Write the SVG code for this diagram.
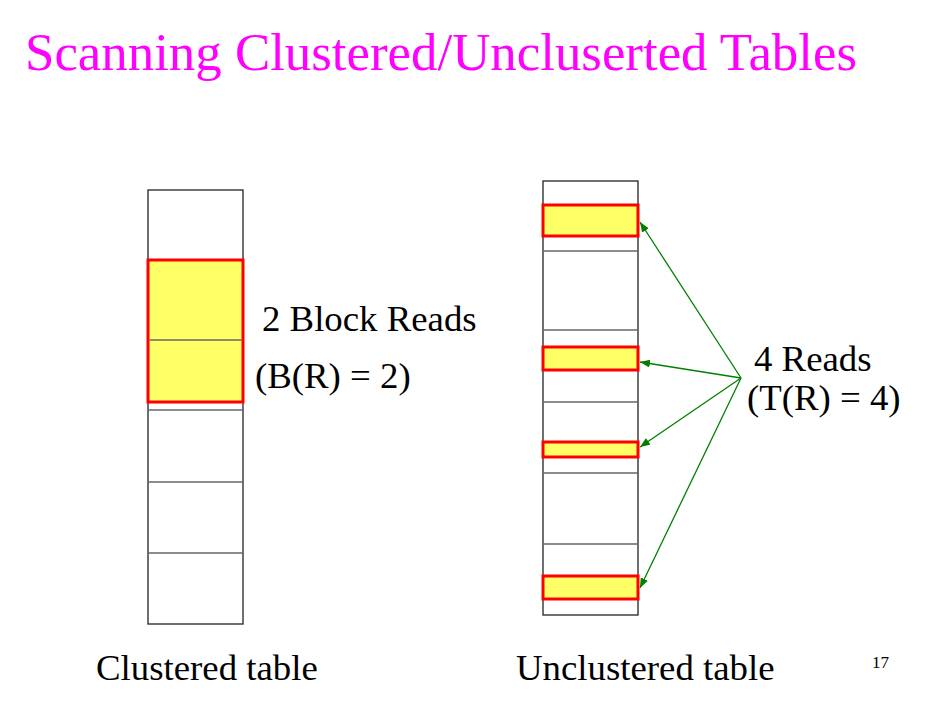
<svg xmlns="http://www.w3.org/2000/svg" width="946" height="709" viewBox="0 0 946 709">
<style>
text{font-family:"Liberation Serif","Times New Roman",serif;fill:#000}
.title{font-size:53px;fill:#FF00FF}
.lbl{font-size:36.8px}
.tbl{fill:#fff;stroke:#222;stroke-width:1.3}
.row{stroke:#666;stroke-width:1.5}
.hl{fill:#FFFF66;stroke:#FF0000;stroke-width:3}
.arr{stroke:#008000;stroke-width:1.3;fill:none;marker-end:url(#ah)}
</style>
<defs>
<marker id="ah" viewBox="0 0 10 8" refX="10" refY="4" markerWidth="10" markerHeight="8" markerUnits="userSpaceOnUse" orient="auto">
<path d="M0,0 L10,4 L0,8 z" fill="#008000"/>
</marker>
</defs>
<rect width="946" height="709" fill="#fff"/>
<text class="title" x="25" y="70" textLength="832" lengthAdjust="spacingAndGlyphs">Scanning Clustered/Uncluserted Tables</text>

<g id="clustered-table">
<rect class="tbl" x="148" y="190" width="95" height="434"/>
<line class="row" x1="148" y1="410" x2="243" y2="410"/>
<line class="row" x1="148" y1="482" x2="243" y2="482"/>
<line class="row" x1="148" y1="553" x2="243" y2="553"/>
<rect class="hl" x="148" y="260" width="95" height="142"/>
<line class="row" x1="149.5" y1="340" x2="241.5" y2="340"/>
</g>

<g id="unclustered-table">
<rect class="tbl" x="543" y="181" width="95" height="434"/>
<line class="row" x1="543" y1="251" x2="638" y2="251"/>
<line class="row" x1="543" y1="330" x2="638" y2="330"/>
<line class="row" x1="543" y1="402" x2="638" y2="402"/>
<line class="row" x1="543" y1="473" x2="638" y2="473"/>
<line class="row" x1="543" y1="544" x2="638" y2="544"/>
<rect class="hl" x="543" y="205" width="95" height="31"/>
<rect class="hl" x="543" y="347" width="95" height="23"/>
<rect class="hl" x="543" y="442" width="95" height="15"/>
<rect class="hl" x="543" y="576" width="95" height="23"/>
</g>

<g id="connectors">
<line class="arr" x1="741" y1="378" x2="640" y2="222"/>
<line class="arr" x1="741" y1="378" x2="640" y2="362"/>
<line class="arr" x1="741" y1="378" x2="640" y2="447"/>
<line class="arr" x1="741" y1="378" x2="640" y2="588"/>
</g>

<g id="clustered-label">
<text class="lbl" x="262" y="331">2 Block Reads</text>
<text class="lbl" x="255" y="388">(B(R) = 2)</text>
</g>
<g id="unclustered-label">
<text class="lbl" x="754" y="371">4 Reads</text>
<text class="lbl" x="747" y="410">(T(R) = 4)</text>
</g>
<text class="lbl" x="96" y="680">Clustered table</text>
<text class="lbl" x="516" y="680">Unclustered table</text>
<text x="872" y="668" style="font-size:17px">17</text>
</svg>
